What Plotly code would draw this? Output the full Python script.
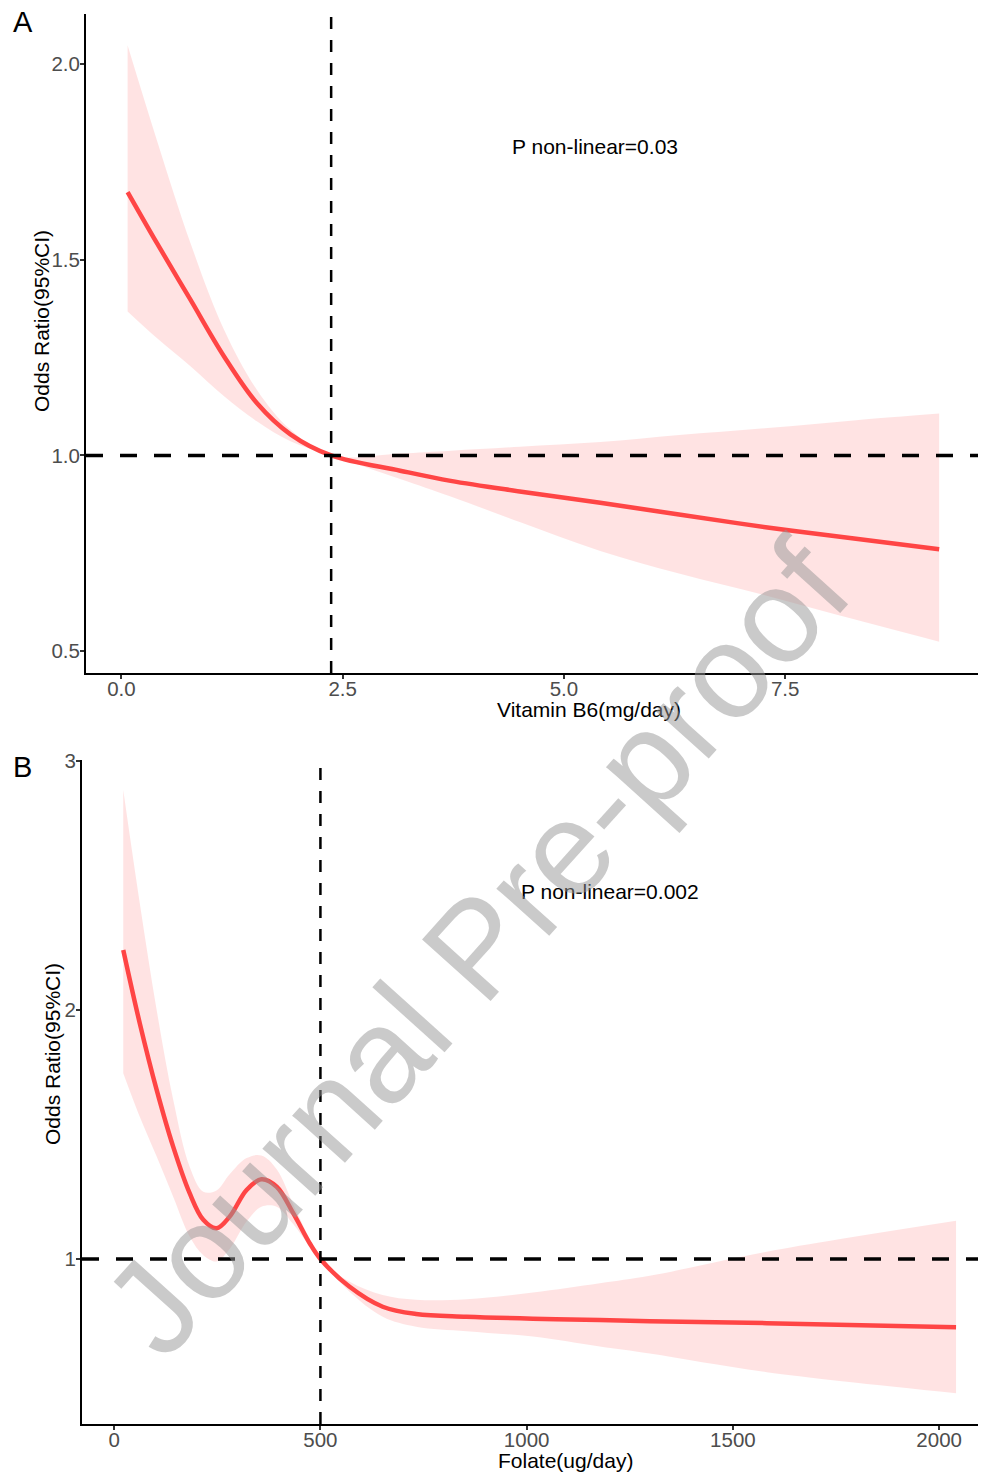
import plotly.graph_objects as go

# ---------------- Data ----------------
# Panel A: Vitamin B6 (mg/day)
b6_x = [0.07, 0.40, 0.78, 1.16, 1.53, 1.91, 2.37, 3.15, 3.72, 4.5, 5.41, 6.3, 7.30, 8.3, 9.24]
b6_or = [1.673, 1.543, 1.398, 1.253, 1.134, 1.054, 1.0, 0.961, 0.935, 0.908, 0.879, 0.849, 0.816, 0.787, 0.760]
b6_upper = [2.048, 1.806, 1.543, 1.321, 1.168, 1.066, 1.0, 1.005, 1.012, 1.022, 1.034, 1.052, 1.070, 1.090, 1.107]
b6_lower = [1.368, 1.300, 1.228, 1.151, 1.087, 1.036, 1.0, 0.940, 0.895, 0.830, 0.756, 0.698, 0.641, 0.580, 0.524]
b6_ref = 2.37

# Panel B: Folate (ug/day)
fol_x = [22, 62, 103, 143, 183, 216, 248, 280, 321, 357, 394, 434, 474, 500,
         570, 651, 732, 854, 1015, 1177, 1298, 1582, 2041]
fol_or = [2.241, 1.947, 1.679, 1.451, 1.264, 1.157, 1.123, 1.170, 1.277, 1.320, 1.290, 1.184, 1.063, 1.0,
          0.889, 0.808, 0.779, 0.768, 0.760, 0.755, 0.750, 0.742, 0.726]
fol_upper = [2.884, 2.43, 2.0, 1.64, 1.37, 1.27, 1.275, 1.34, 1.405, 1.415, 1.36, 1.22, 1.08, 1.0,
             0.909, 0.855, 0.836, 0.838, 0.865, 0.902, 0.932, 1.029, 1.153]
fol_lower = [1.746, 1.571, 1.411, 1.25, 1.09, 1.015, 0.99, 1.04, 1.15, 1.21, 1.21, 1.14, 1.05, 1.0,
             0.869, 0.768, 0.728, 0.710, 0.688, 0.648, 0.620, 0.545, 0.461]
fol_ref = 500

b6_xticks = [0.0, 2.5, 5.0, 7.5]
b6_yticks = [0.5, 1.0, 1.5, 2.0]
fol_xticks = [0, 500, 1000, 1500, 2000]
fol_yticks = [1, 2, 3]

# ---------------- Styling ----------------
W, H = 986, 1474
OFF = 8  # page offset of the plot inside the browser
LINE_COL = "#FF4545"
BAND_COL = "rgba(255,0,0,0.11)"
FONT = "Liberation Sans, Arial, Helvetica, sans-serif"
TICK_FONT = dict(family=FONT, size=20.5, color="#4D4D4D")


def px_x(p):
    return min(max((p - OFF) / W, 0), 1)


def px_y(p):
    return min(max(1 - (p - OFF) / H, 0), 1)


fig = go.Figure()


def add_panel(x, lo, hi, orv, xa, ya):
    fig.add_trace(go.Scatter(x=x, y=lo, mode="lines", line=dict(width=0, shape="spline"),
                             xaxis=xa, yaxis=ya, showlegend=False, hoverinfo="skip"))
    fig.add_trace(go.Scatter(x=x, y=hi, mode="lines", line=dict(width=0, shape="spline"),
                             fill="tonexty", fillcolor=BAND_COL,
                             xaxis=xa, yaxis=ya, showlegend=False, hoverinfo="skip"))
    fig.add_trace(go.Scatter(x=x, y=orv, mode="lines",
                             line=dict(color=LINE_COL, width=4.5, shape="spline"),
                             xaxis=xa, yaxis=ya, showlegend=False))


add_panel(b6_x, b6_lower, b6_upper, b6_or, "x", "y")
add_panel(fol_x, fol_lower, fol_upper, fol_or, "x2", "y2")

axis_common = dict(showline=True, linecolor="black", linewidth=2, showgrid=False, zeroline=False,
                   ticks="outside", ticklen=4, tickwidth=1.5, tickcolor="#333333",
                   tickfont=TICK_FONT, mirror=False, automargin=False)
x_common = dict(axis_common, ticklabelstandoff=-8)
y_common = dict(axis_common, ticklabelstandoff=-4)

fig.update_layout(
    width=W, height=H,
    margin=dict(l=0, r=0, t=0, b=0, pad=0, autoexpand=False),
    paper_bgcolor="white", plot_bgcolor="white",
    xaxis=dict(domain=[px_x(86), px_x(979)], range=[-0.40, 9.69], anchor="y",
               tickvals=b6_xticks, ticktext=["0.0", "2.5", "5.0", "7.5"], **x_common),
    yaxis=dict(domain=[px_y(673), px_y(14)], range=[0.444, 2.128], anchor="x",
               tickvals=b6_yticks, ticktext=["0.5", "1.0", "1.5", "2.0"], **y_common),
    xaxis2=dict(domain=[px_x(82), px_x(994)], range=[-78, 2133], anchor="y2",
                tickvals=fol_xticks, **x_common),
    yaxis2=dict(domain=[px_y(1424), px_y(760)], range=[0.337, 3.004], anchor="x2",
                tickvals=fol_yticks, **y_common),
)

# Reference lines
for xa, ya, ref in [("x", "y", b6_ref), ("x2", "y2", fol_ref)]:
    fig.add_shape(type="line", xref=f"{xa} domain", yref=ya, x0=0, x1=1, y0=1, y1=1,
                  line=dict(color="black", width=3.5, dash="17px,17px"), layer="above")
    fig.add_shape(type="line", xref=xa, yref=f"{ya} domain", x0=ref, x1=ref, y0=0, y1=1,
                  line=dict(color="black", width=2.5, dash="12px,11px"), layer="above")

ann = []
# Panel labels
ann.append(dict(text="A", x=px_x(11), y=px_y(22), xanchor="left", yanchor="middle",
                font=dict(family=FONT, size=29, color="black")))
ann.append(dict(text="B", x=px_x(11), y=px_y(767), xanchor="left", yanchor="middle",
                font=dict(family=FONT, size=29, color="black")))
# P values
ann.append(dict(text="P non-linear=0.03", x=px_x(595), y=px_y(147), xanchor="center", yanchor="middle",
                font=dict(family=FONT, size=21, color="black")))
ann.append(dict(text="P non-linear=0.002", x=px_x(610), y=px_y(891), xanchor="center", yanchor="middle",
                font=dict(family=FONT, size=21, color="black")))
# Axis titles
ann.append(dict(text="Vitamin B6(mg/day)", x=px_x(589), y=px_y(709), xanchor="center", yanchor="middle",
                font=dict(family=FONT, size=21, color="black")))
ann.append(dict(text="Folate(ug/day)", x=px_x(565), y=px_y(1460), xanchor="center", yanchor="middle",
                font=dict(family=FONT, size=21, color="black")))
ann.append(dict(text="Odds Ratio(95%CI)", x=px_x(42), y=px_y(321), xanchor="center", yanchor="middle",
                textangle=-90, font=dict(family=FONT, size=21, color="black")))
ann.append(dict(text="Odds Ratio(95%CI)", x=px_x(52), y=px_y(1054), xanchor="center", yanchor="middle",
                textangle=-90, font=dict(family=FONT, size=21, color="black")))
# Watermark
ann.append(dict(text="Journal Pre-proof", x=px_x(476), y=px_y(947), xanchor="center", yanchor="middle",
                textangle=-48, font=dict(family=FONT, size=134, color="rgba(150,150,150,0.5)")))

for a in ann:
    a.update(xref="paper", yref="paper", showarrow=False)
    fig.add_annotation(**a)

fig.write_html("out.html")
